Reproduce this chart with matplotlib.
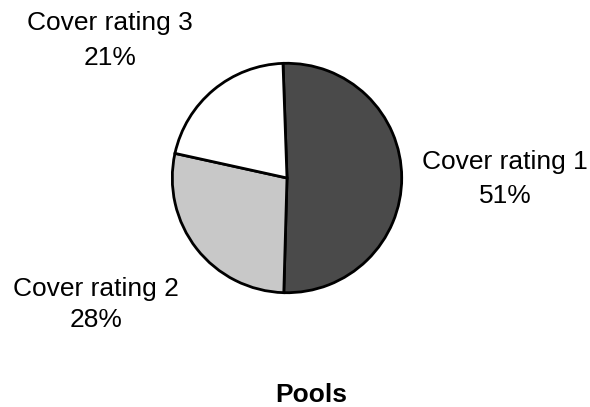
import matplotlib
matplotlib.use("Agg")
import matplotlib.pyplot as plt

labels = ["Cover rating 1", "Cover rating 2", "Cover rating 3"]
shares = [51, 28, 21]
colors = ["#4a4a4a", "#c8c8c8", "#ffffff"]
title = "Pools"

plt.rcParams["font.family"] = ["Liberation Sans", "DejaVu Sans"]

W, H = 590, 407
fig = plt.figure(figsize=(W / 100, H / 100), dpi=100)

# pie box in pixels: centre and radius
cx, cy, r = 287, 178, 117
ax = fig.add_axes([(cx - r) / W, (H - cy - r) / H, 2 * r / W, 2 * r / H])
ax.pie(shares, colors=colors, startangle=92, counterclock=False,
       wedgeprops=dict(edgecolor="black", linewidth=2))
ax.set_xlim(-1.02, 1.02)
ax.set_ylim(-1.02, 1.02)
ax.set_aspect("equal")
ax.axis("off")

# label anchors in pixels: centre x, baseline of name, baseline of percent
label_pos = [(505, 169, 203), (96, 296, 327), (110, 30, 65)]
for lab, val, (x, y1, y2) in zip(labels, shares, label_pos):
    fig.text(x / W, 1 - y1 / H, lab, ha="center", va="baseline", fontsize=19)
    fig.text(x / W, 1 - y2 / H, f"{val}%", ha="center", va="baseline", fontsize=19)

fig.text(311 / W, 1 - 402 / H, title, ha="center", va="baseline",
         fontsize=19, fontweight="bold")

fig.savefig("out.png", dpi=100)
